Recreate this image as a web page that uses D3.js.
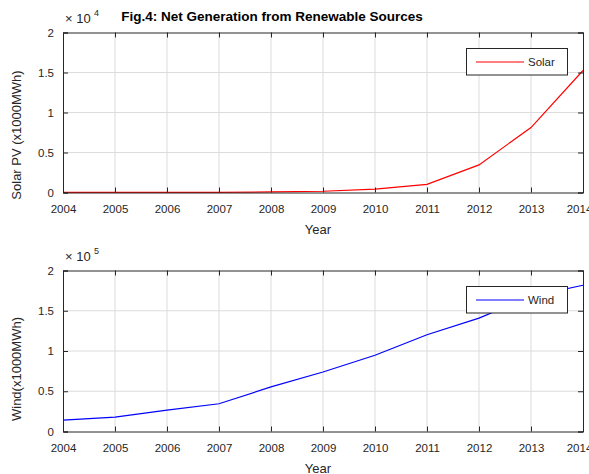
<!DOCTYPE html>
<meta charset="utf-8">
<script src="https://d3js.org/d3.v7.min.js"></script>
<style>
  body { margin: 0; background: #fff; }
  svg text { font-family: "Liberation Sans", Arial, sans-serif; fill: #262626; }
  .tick text { font-size: 11.5px; }
  .title { font-size: 13.5px; font-weight: bold; fill: #000; }
  .lab { font-size: 13px; }
</style>
<div id="chart"></div>
<script>
// data (thousand MWh)
var years = [2004, 2005, 2006, 2007, 2008, 2009, 2010, 2011, 2012, 2013, 2014];
var solar = [6, 16, 15, 16, 76, 157, 423, 1012, 3451, 8121, 15250];
var wind = [14144, 17811, 26589, 34450, 55363, 73886, 94652, 120177, 140822, 167840, 181655];
var yTicksSolar = [0, 0.5, 1, 1.5, 2];
var yTicksWind = [0, 0.5, 1, 1.5, 2];

var W = 589, H = 474;
var svg = d3.select("#chart").append("svg").attr("width", W).attr("height", H);

svg.append("text").attr("class", "title")
  .attr("x", 272).attr("y", 21).attr("text-anchor", "middle")
  .text("Fig.4: Net Generation from Renewable Sources");

function panel(top, bottom, values, scaleExp, color, name, ylabel, ylabelY, ticks, legendY) {
  var x = d3.scaleLinear().domain([2004, 2014]).range([63, 583]);
  var y = d3.scaleLinear().domain([0, 2 * Math.pow(10, scaleExp)]).range([bottom, top]);
  var g = svg.append("g");

  // grid
  g.selectAll(".vg").data(years.slice(1, -1)).enter().append("line")
    .attr("x1", d => x(d)).attr("x2", d => x(d))
    .attr("y1", top).attr("y2", bottom)
    .attr("stroke", "#dcdcdc").attr("stroke-width", 1);
  g.selectAll(".hg").data(ticks.slice(1, -1)).enter().append("line")
    .attr("x1", 63).attr("x2", 583)
    .attr("y1", d => y(d * Math.pow(10, scaleExp))).attr("y2", d => y(d * Math.pow(10, scaleExp)))
    .attr("stroke", "#dcdcdc").attr("stroke-width", 1);

  // line
  g.append("path").datum(values)
    .attr("fill", "none").attr("stroke", color).attr("stroke-width", 1.2)
    .attr("d", d3.line().x((d, i) => x(years[i])).y(d => y(d)));

  // axes (MATLAB style box, inward ticks)
  var xb = g.append("g").attr("transform", "translate(0," + bottom + ")")
    .call(d3.axisBottom(x).tickValues(years).tickFormat(d3.format("d")).tickSize(-5).tickPadding(12));
  // last label sits partly off the edge like the original
  xb.selectAll(".tick text").filter(d => d === 2014).attr("dx", -4);
  var xt = g.append("g").attr("transform", "translate(0," + top + ")")
    .call(d3.axisTop(x).tickValues(years).tickFormat("").tickSize(-5));
  var yl = g.append("g").attr("transform", "translate(63,0)")
    .call(d3.axisLeft(y).tickValues(ticks.map(t => t * Math.pow(10, scaleExp)))
      .tickFormat((d, i) => ticks[i]).tickSize(-5).tickPadding(9));
  var yr = g.append("g").attr("transform", "translate(583,0)")
    .call(d3.axisRight(y).tickValues(ticks.map(t => t * Math.pow(10, scaleExp))).tickFormat("").tickSize(-5));
  [xb, xt, yl, yr].forEach(function(a) {
    a.select(".domain").attr("stroke", "#262626");
    a.selectAll(".tick line").attr("stroke", "#262626");
    a.selectAll(".tick text").attr("fill", "#262626");
  });

  // exponent
  g.append("text").attr("class", "lab").attr("x", 65).attr("y", top - 10).text("\u00d7 10");
  g.append("text").attr("x", 94).attr("y", top - 17).style("font-size", "9px").text(scaleExp);

  // labels
  g.append("text").attr("class", "lab").attr("x", 318).attr("y", bottom + 41)
    .attr("text-anchor", "middle").text("Year");
  g.append("text").attr("class", "lab").attr("text-anchor", "middle")
    .attr("transform", "translate(21," + ylabelY + ") rotate(-90)").text(ylabel);

  // legend
  g.append("rect").attr("x", 466.5).attr("y", legendY).attr("width", 101).attr("height", 26.5)
    .attr("fill", "#fff").attr("stroke", "#262626").attr("stroke-width", 1);
  g.append("line").attr("x1", 476).attr("x2", 524)
    .attr("y1", legendY + 13.5).attr("y2", legendY + 13.5)
    .attr("stroke", color).attr("stroke-width", 1.2);
  g.append("text").attr("x", 528).attr("y", legendY + 17.5).style("font-size", "11.5px").text(name);
}

panel(32.5, 192.5, solar, 4, "#ff0000", "Solar", "Solar PV (x1000MWh)", 135, yTicksSolar, 48.5);
panel(270.5, 431.5, wind, 5, "#0000ff", "Wind", "Wind(x1000MWh)", 369, yTicksWind, 286.5);
</script>
